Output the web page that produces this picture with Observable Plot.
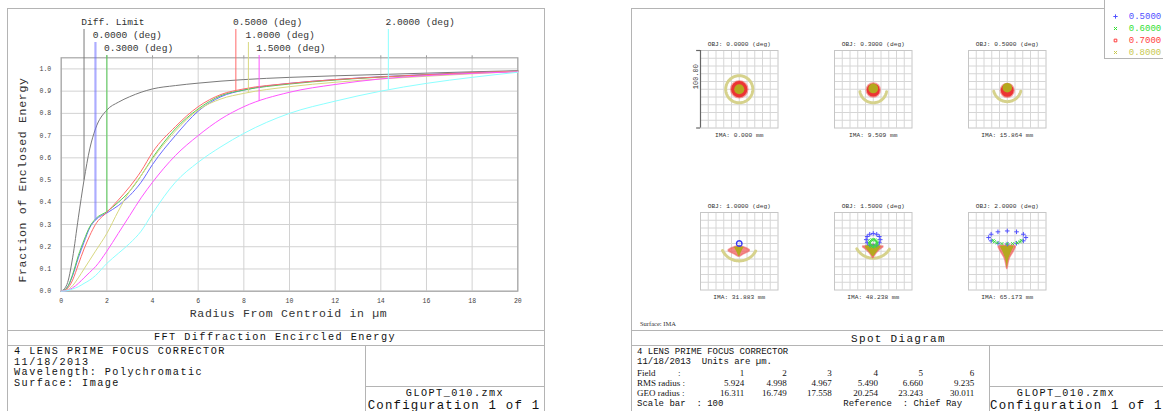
<!DOCTYPE html>
<html><head><meta charset="utf-8">
<script src="https://cdn.jsdelivr.net/npm/d3@7"></script>
<script src="https://cdn.jsdelivr.net/npm/@observablehq/plot@0.6"></script>
<style>
body{margin:0;background:#fff;}
#root{position:relative;width:1163px;height:411px;overflow:hidden;background:#fff;font-family:"Liberation Mono","DejaVu Sans Mono",monospace;color:#111;}
.t{position:absolute;white-space:pre;line-height:1;}
.hl{position:absolute;height:0;border-top:1.5px solid #b4b4b4;}
.vl{position:absolute;width:0;border-left:1.5px solid #b4b4b4;}
.box{position:absolute;border:1.5px solid #b4b4b4;box-sizing:border-box;}
svg{overflow:visible;}
</style></head><body><div id="root"></div>
<script>
// ---------- Encircled energy data ----------
const radius   = [0,0.25,0.5,0.75,1,1.25,1.5,2,2.5,3,3.5,4,5,6,7,8,10,12,14,16,18,20];
const diffLim  = [0,0.03,0.15,0.33,0.5,0.64,0.73,0.815,0.85,0.875,0.895,0.91,0.925,0.936,0.945,0.952,0.962,0.969,0.975,0.981,0.987,0.992];
const deg0000  = [0,0.015,0.07,0.15,0.22,0.285,0.32,0.352,0.385,0.43,0.49,0.57,0.70,0.81,0.875,0.905,0.935,0.952,0.965,0.975,0.983,0.99];
const deg0300  = [0,0.015,0.075,0.16,0.23,0.29,0.325,0.358,0.40,0.45,0.52,0.60,0.73,0.82,0.88,0.905,0.932,0.95,0.963,0.973,0.982,0.99];
const deg0500  = [0,0.01,0.05,0.12,0.19,0.25,0.30,0.355,0.41,0.47,0.54,0.625,0.74,0.83,0.885,0.91,0.935,0.952,0.964,0.974,0.983,0.99];
const deg1000  = [0,0.005,0.025,0.06,0.10,0.14,0.18,0.26,0.36,0.45,0.52,0.595,0.72,0.815,0.865,0.89,0.92,0.94,0.955,0.967,0.978,0.988];
const deg1500  = [0,0.003,0.015,0.035,0.06,0.085,0.11,0.18,0.26,0.34,0.42,0.49,0.61,0.70,0.775,0.83,0.895,0.93,0.955,0.97,0.98,0.987];
const deg2000  = [0,0.002,0.01,0.02,0.035,0.05,0.07,0.125,0.17,0.215,0.27,0.35,0.49,0.58,0.65,0.71,0.80,0.855,0.90,0.935,0.962,0.985];
const seriesNames  = ["Diff. Limit","0.0000 (deg)","0.3000 (deg)","0.5000 (deg)","1.0000 (deg)","1.5000 (deg)","2.0000 (deg)"];
const seriesValues = [diffLim,deg0000,deg0300,deg0500,deg1000,deg1500,deg2000];
const seriesColors = ["#7a7a7a","#6a6aff","#55cc55","#ff6a6a","#d8d880","#ff55ff","#8cffff"];
const legendX   = [1,1.5,2,7.65,8.2,8.67,14.33];
const legendRow = [0,1,2,0,1,2,0];
const legendEnd = [0.5,0.32,0.357,0.902,0.892,0.853,0.905];
const xTicks = [0,2,4,6,8,10,12,14,16,18,20];
const yTicks = [0,0.1,0.2,0.3,0.4,0.5,0.6,0.7,0.8,0.9,1.0];

// ---------- Spot diagram data (µm, y up) ----------
const fieldTitles = ["OBJ: 0.0000 (deg)","OBJ: 0.3000 (deg)","OBJ: 0.5000 (deg)","OBJ: 1.0000 (deg)","OBJ: 1.5000 (deg)","OBJ: 2.0000 (deg)"];
const imaLabels   = ["IMA: 0.000 mm","IMA: 9.509 mm","IMA: 15.864 mm","IMA: 31.883 mm","IMA: 48.238 mm","IMA: 65.173 mm"];
const wavelengths = ["0.5000","0.6000","0.7000","0.8000"];
const wlDense  = ["#3434f4","#30d030","#ec3434","#b5a81e"];
const wlSparse = ["#5050ff","#40dd40","#f06060","#d6d28c"];
const legendTextColors = ["#5050ff","#33e033","#ff3c3c","#c8c850"];
const gridTicks = [-40,-30,-20,-10,0,10,20,30,40];
const spotDiscs = [
  {f:0,wl:2,cx:0,cy:0,r:10.5},{f:0,wl:3,cx:0,cy:0,r:6.5},
  {f:1,wl:2,cx:0,cy:-1,r:8.5},{f:1,wl:3,cx:0,cy:1,r:6.3},
  {f:2,wl:2,cx:0,cy:-1.5,r:8.3},{f:2,wl:3,cx:0,cy:2,r:6.2}
];
const spotBlobs = [
  {f:3,wl:2,x:[-13.5,-10,-5,0,5,10,13.5],lo:[0,-2,-4.5,-7,-4.5,-2,0],hi:[1.5,3.5,5.5,6.5,5.5,3.5,1.5]},
  {f:3,wl:3,x:[-6,-3,0,3,6],lo:[4.5,-1,-7,-1,4.5],hi:[5,5.5,6,5.5,5]},
  {f:4,wl:2,x:[-13,-9,-5,-2,0,2,5,9,13],lo:[5,2,-2,-6,-9,-6,-2,2,5],hi:[6,6.5,7,7,7,7,7,6.5,6]},
  {f:4,wl:3,x:[-10,-6,-3,0,3,6,10],lo:[5,0,-4,-7,-4,0,5],hi:[6.5,7.5,8,9,8,7.5,6.5]},
  {f:5,wl:2,x:[-11,-8,-5,-3,-1.5,0,1.5,3,5,8,11],lo:[5,-1,-6,-10,-16,-23,-16,-10,-6,-1,5],hi:[6,7,7,7,7,7,7,7,7,7,6]},
  {f:5,wl:3,x:[-8.5,-6,-3.5,-2,-1,0,1,2,3.5,6,8.5],lo:[5,0,-6,-10,-15,-21,-15,-10,-6,0,5],hi:[6,6.5,6.5,6.5,6.5,6.5,6.5,6.5,6.5,6.5,6]}
];
const spotRings = [
  {f:0,wl:3,cx:0,cy:0,rx:17.5,ry:17.5,a0:0,a1:360},
  {f:1,wl:3,cx:0,cy:0,rx:17.5,ry:17.5,a0:190,a1:350},
  {f:2,wl:3,cx:0,cy:2,rx:18,ry:18,a0:195,a1:345},
  {f:3,wl:3,cx:0,cy:11.5,rx:24,ry:24,a0:206,a1:334},
  {f:3,wl:0,cx:0,cy:10,rx:3.5,ry:3.5,a0:0,a1:360},
  {f:4,wl:3,cx:0,cy:15.4,rx:24.4,ry:24.4,a0:210,a1:330},
  {f:4,wl:0,cx:0,cy:15,rx:9,ry:8,a0:0,a1:360},
  {f:4,wl:1,cx:0,cy:10.5,rx:5,ry:4.5,a0:0,a1:360},
  {f:5,wl:0,cx:0,cy:17.7,rx:24,ry:8.5,a0:0,a1:360},
  {f:5,wl:1,cx:0,cy:14,rx:18,ry:4.5,a0:180,a1:360}
];
const rmsRadius = ["5.924","4.998","4.967","5.490","6.660","9.235"];
const geoRadius = ["16.311","16.749","17.558","20.254","23.243","30.011"];

// ---------- helpers ----------
const root = document.getElementById("root");
const MONO = '"Liberation Mono","DejaVu Sans Mono",monospace';
const SERIF = '"Liberation Serif","DejaVu Serif",serif';
function txt(s, x, y, o={}) {
  const d = document.createElement("div");
  d.className = "t"; d.textContent = s;
  d.style.left = x + "px"; d.style.top = y + "px";
  d.style.fontSize = (o.size || 9) + "px";
  d.style.fontFamily = o.font || MONO;
  if (o.ls) d.style.letterSpacing = o.ls + "px";
  d.style.color = o.color || "#111";
  const tx = o.anchor === "middle" ? "-50%" : o.anchor === "end" ? "-100%" : "0";
  d.style.transform = `translate(${tx},-50%)`;
  if (o.rotate) { d.style.transform = `translate(-50%,-50%) rotate(${o.rotate}deg)`; }
  root.appendChild(d); return d;
}
function place(el, x, y, z) { el.style.position = "absolute"; el.style.left = x + "px"; el.style.top = y + "px"; if (z) el.style.zIndex = z; root.appendChild(el); }
function line(cls, x, y, len) { const d = document.createElement("div"); d.className = cls; d.style.left = x + "px"; d.style.top = y + "px"; if (cls === "hl") d.style.width = len + "px"; else d.style.height = len + "px"; root.appendChild(d); }
function box(x, y, w, h) { const d = document.createElement("div"); d.className = "box"; Object.assign(d.style, {left:x+"px",top:y+"px",width:w+"px",height:h+"px"}); root.appendChild(d); return d; }

// ---------- panels ----------
box(7, 7.5, 538, 430);
box(631, 7.5, 600, 430);

// ---------- left chart ----------
const L = {w:545, h:330, ml:60.7, mr:27.7, mt:57.3, mb:39.3, yMax:1.05};
const unit = (L.h - L.mb - L.mt) / L.yMax;
const pxToY = px => (L.h - L.mb - px) / unit;
const rowLabelPx = [21.7, 34.7, 47.7];
const rowLinePx = [29, 42, 55];

const eeData = [];
seriesValues.forEach((vals, s) => vals.forEach((v, i) => eeData.push({x: radius[i], y: v, s: seriesNames[s]})));
const legendIdx = seriesNames.map((_, i) => i);

const left = Plot.plot({
  width: L.w, height: L.h, marginLeft: L.ml, marginRight: L.mr, marginTop: L.mt, marginBottom: L.mb,
  x: {domain: [0, 20]},
  y: {domain: [0, L.yMax]},
  color: {domain: seriesNames, range: seriesColors},
  style: {fontFamily: MONO, fontSize: "6.5px", color: "#444", background: "transparent", overflow: "visible"},
  marks: [
    Plot.gridX({ticks: xTicks, stroke: "#d2d2d2", strokeOpacity: 1, strokeWidth: 1}),
    Plot.gridY({ticks: yTicks, stroke: "#d2d2d2", strokeOpacity: 1, strokeWidth: 1}),
    Plot.axisX({ticks: xTicks, tickSize: 0, tickPadding: 7, label: null, tickFormat: d => String(d)}),
    Plot.axisX({anchor: "top", ticks: xTicks.slice(1, -1), tickSize: 3, stroke: "#9a9a9a", tickFormat: () => "", label: null}),
    Plot.axisY({ticks: yTicks, tickSize: 0, tickPadding: 10, label: null, tickFormat: d3.format(".1f")}),
    Plot.frame({stroke: "#a6a6a6", strokeWidth: 1.2}),
    Plot.line(eeData, {x: "x", y: "y", z: "s", stroke: "s", strokeWidth: 1, curve: "monotone-x"}),
    Plot.ruleX(legendIdx, {x: i => legendX[i], y1: i => pxToY(rowLinePx[legendRow[i]]), y2: i => legendEnd[i],
      stroke: i => seriesNames[i], strokeWidth: i => (i === 1 ? 2.2 : 1), strokeOpacity: i => (i === 1 ? 0.55 : 1)}),
    Plot.text(legendIdx, {x: i => legendX[i], y: i => pxToY(rowLabelPx[legendRow[i]]), text: i => seriesNames[i],
      textAnchor: "start", dx: -2.8, fontSize: 9.6, fill: "#333"})
  ]
});
place(left, 0, 0, 1);
txt("Radius From Centroid in µm", 288.6, 314, {size: 11.5, ls: 0.7, anchor: "middle", color: "#333"});
txt("Fraction of Enclosed Energy", 22.8, 180, {size: 11.5, ls: 0.7, rotate: -90, color: "#333"});

// left info box
const BIG = {size: 10.2, ls: 1.45};
line("hl", 7, 329.5, 538);
line("hl", 7, 345, 538);
line("vl", 365, 345, 80);
line("hl", 365, 385.5, 180);
txt("FFT Diffraction Encircled Energy", 275, 338, {...BIG, anchor: "middle"});
txt("4 LENS PRIME FOCUS CORRECTOR", 14, 352, BIG);
txt("11/18/2013", 14, 362.5, BIG);
txt("Wavelength: Polychromatic", 14, 373, BIG);
txt("Surface: Image", 14, 383.5, BIG);
txt("GLOPT_010.zmx", 455, 393.5, {...BIG, anchor: "middle"});
txt("Configuration 1 of 1", 454, 405.5, {size: 12.4, ls: 1.2, anchor: "middle"});

// ---------- spot diagrams ----------
function ringPoints(rg, step) {
  const pts = [];
  for (let a = rg.a0; a <= rg.a1 + 1e-9; a += step) {
    const t = a * Math.PI / 180;
    pts.push({x: rg.cx + rg.rx * Math.cos(t), y: rg.cy + rg.ry * Math.sin(t), id: rg});
  }
  return pts;
}
function spotPlot(f) {
  const rings = spotRings.filter(d => d.f === f);
  const bands = rings.filter(d => d.wl === 3).flatMap(d => ringPoints(d, 3));
  const smallRings = rings.filter(d => d.wl !== 3 && d.rx < 5).flatMap(d => ringPoints(d, 10).map(p => ({...p, wl: d.wl})));
  const marks = rings.filter(d => d.wl !== 3 && d.rx >= 5).flatMap(d => ringPoints(d, d.wl === 0 ? 30 : 22.5).filter((p, i, a) => d.a1 - d.a0 < 360 || i < a.length - 1).map(p => ({...p, wl: d.wl})));
  const blobs = spotBlobs.filter(d => d.f === f).map(b => ({wl: b.wl, pts: b.x.map((x, i) => ({x, lo: b.lo[i], hi: b.hi[i]}))}));
  const discs = spotDiscs.filter(d => d.f === f);
  const m = [
    Plot.gridX({ticks: gridTicks, stroke: "#d6d6d6", strokeOpacity: 1}),
    Plot.gridY({ticks: gridTicks, stroke: "#d6d6d6", strokeOpacity: 1}),
    Plot.frame({stroke: "#c6c6c6"}),
    Plot.line(bands, {x: "x", y: "y", z: "id", stroke: wlSparse[3], strokeWidth: 3, strokeDasharray: "1.6 0.9"}),
  ];
  discs.filter(d => d.wl === 2).forEach(d => {
    m.push(Plot.dot([d], {x: "cx", y: "cy", r: d => d.r + 1.5, fill: wlSparse[2], fillOpacity: 0.6}));
    m.push(Plot.dot([d], {x: "cx", y: "cy", r: "r", fill: wlDense[2]}));
  });
  blobs.filter(b => b.wl === 2).forEach(b => {
    m.push(Plot.areaY(b.pts, {x: "x", y1: "lo", y2: "hi", fill: wlSparse[2], fillOpacity: 0.75, stroke: wlSparse[2], strokeWidth: 1.5, strokeOpacity: 0.6, curve: "catmull-rom"}));
  });
  blobs.filter(b => b.wl === 3).forEach(b => {
    m.push(Plot.areaY(b.pts, {x: "x", y1: "lo", y2: "hi", fill: wlDense[3], curve: "catmull-rom"}));
  });
  discs.filter(d => d.wl === 3).forEach(d => m.push(Plot.dot([d], {x: "cx", y: "cy", r: "r", fill: wlDense[3]})));
  m.push(Plot.line(smallRings, {x: "x", y: "y", z: "id", stroke: d => wlDense[d.wl], strokeWidth: 1.4}));
  m.push(Plot.dot(marks.filter(p => p.wl === 0), {x: "x", y: "y", symbol: "plus", r: 1.6, stroke: wlSparse[0], strokeWidth: 1}));
  m.push(Plot.dot(marks.filter(p => p.wl === 1), {x: "x", y: "y", symbol: "times", r: 1.5, stroke: wlSparse[1], strokeWidth: 1}));
  if (f === 0) {
    m.push(Plot.ruleX([-50], {y1: -50, y2: 50, stroke: "#666", strokeWidth: 1.2}));
    m.push(Plot.ruleY([-50, 50], {x1: -55, x2: -50, stroke: "#666", strokeWidth: 1.2}));
    m.push(Plot.text(["100.00"], {frameAnchor: "left", dx: -5, rotate: -90, fontSize: 7, fill: "#333"}));
  }
  m.push(Plot.text([fieldTitles[f]], {frameAnchor: "top", dy: -8.5, fill: "#333"}));
  m.push(Plot.text([imaLabels[f]], {frameAnchor: "bottom", dy: 8.5, fill: "#333"}));
  return Plot.plot({
    width: 117.5, height: 105.5, marginLeft: 20, marginRight: 20, marginTop: 14, marginBottom: 14,
    x: {domain: [-50, 50], axis: null}, y: {domain: [-50, 50], axis: null},
    r: {type: "linear", domain: [0, 50], range: [0, 38.75]},
    style: {fontFamily: MONO, fontSize: "6.2px", background: "transparent", overflow: "visible"},
    marks: m
  });
}
const boxLeft = [700.4, 834, 968.4];
const boxTop = [50, 211.5];
for (let f = 0; f < 6; f++) place(spotPlot(f), boxLeft[f % 3] - 20, boxTop[Math.floor(f / 3)] - 14, 1);

// legend (top right)
const lg = box(1104, -2, 70, 60.5); lg.style.background = "#fff"; lg.style.zIndex = 3;
const legendPlot = Plot.plot({
  width: 60, height: 36, margin: 0,
  x: {domain: [0, 1], axis: null}, y: {domain: [0, 3], reverse: true, axis: null},
  style: {fontFamily: MONO, fontSize: "9px", background: "transparent", overflow: "visible"},
  marks: [
    Plot.dot(wavelengths, {x: 0, y: (d, i) => i, symbol: (d, i) => ["plus", "times", "square", "times"][i], r: 1.5, stroke: (d, i) => legendTextColors[i], strokeWidth: 1}),
    Plot.text(wavelengths, {x: 0, y: (d, i) => i, dx: 13.3, textAnchor: "start", fill: (d, i) => legendTextColors[i]})
  ]
});
place(legendPlot, 1114.7, 16, 4);

// right info box
txt("Surface: IMA", 640, 324, {size: 6.5, font: SERIF, color: "#333"});
line("hl", 631, 330, 540);
line("hl", 631, 345, 540);
line("vl", 988.5, 345, 80);
line("hl", 988.5, 385.5, 180);
txt("Spot Diagram", 898.5, 338.5, {size: 11, ls: 1.3, anchor: "middle"});
txt("4 LENS PRIME FOCUS CORRECTOR", 637, 352, {size: 9});
txt("11/18/2013  Units are µm.", 637, 362, {size: 9});
txt("Field", 637, 372.5, {size: 9, font: SERIF});
txt(":", 678, 372.5, {size: 9, font: SERIF});
txt("RMS radius :", 637, 382.5, {size: 9, font: SERIF});
txt("GEO radius :", 637, 393, {size: 9, font: SERIF});
const colRight = [744.3, 786.7, 831.7, 878, 923, 974.3];
colRight.forEach((x, i) => {
  txt(String(i + 1), x, 372.5, {size: 9, font: SERIF, anchor: "end"});
  txt(rmsRadius[i], x, 382.5, {size: 9, font: SERIF, anchor: "end"});
  txt(geoRadius[i], x, 393, {size: 9, font: SERIF, anchor: "end"});
});
txt("Scale bar  : 100", 637, 404, {size: 9});
txt("Reference  : Chief Ray", 843.3, 404, {size: 9});
txt("GLOPT_010.zmx", 1066, 393.5, {...BIG, anchor: "middle"});
txt("Configuration 1 of 1", 990, 405.5, {size: 12.4, ls: 1.2});
</script></body></html>
